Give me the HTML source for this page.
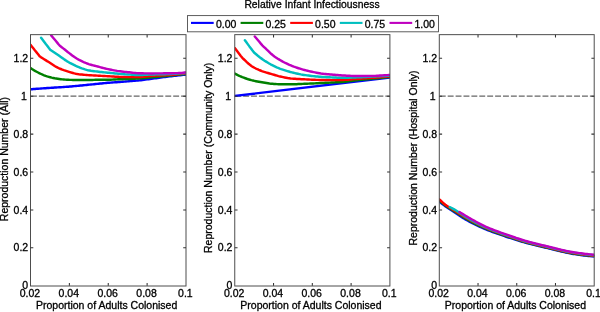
<!DOCTYPE html>
<html><head><meta charset="utf-8"><title>Reproduction number figure</title>
<style>html,body{margin:0;padding:0;background:#fff}svg{display:block;will-change:transform}text{font-family:"Liberation Sans",sans-serif;font-size:10.5px;fill:#000;stroke:#000;stroke-width:0.3px}</style></head><body>
<svg width="600" height="312" viewBox="0 0 600 312">
<rect width="600" height="312" fill="#fff"/>
<defs>
<clipPath id="cp0"><rect x="30.50" y="34.65" width="155.50" height="251.05"/></clipPath>
<clipPath id="cp1"><rect x="234.75" y="34.65" width="155.15" height="251.05"/></clipPath>
<clipPath id="cp2"><rect x="439.30" y="34.65" width="154.90" height="251.05"/></clipPath>
</defs>
<text x="244.4" y="8.3" textLength="135.2" lengthAdjust="spacingAndGlyphs">Relative Infant Infectiousness</text>
<rect x="187.5" y="15.6" width="251" height="16.2" fill="#fff" stroke="#4d4d4d" stroke-width="0.9"/>
<line x1="191.0" y1="22.9" x2="213.7" y2="22.9" stroke="#0000ff" stroke-width="2.1"/>
<text x="215.9" y="27.5">0.00</text>
<line x1="240.6" y1="22.9" x2="263.3" y2="22.9" stroke="#008000" stroke-width="2.1"/>
<text x="265.5" y="27.5">0.25</text>
<line x1="290.2" y1="22.9" x2="312.9" y2="22.9" stroke="#ff0000" stroke-width="2.1"/>
<text x="315.1" y="27.5">0.50</text>
<line x1="339.8" y1="22.9" x2="362.5" y2="22.9" stroke="#00bfbf" stroke-width="2.1"/>
<text x="364.7" y="27.5">0.75</text>
<line x1="389.5" y1="22.9" x2="412.2" y2="22.9" stroke="#bf00bf" stroke-width="2.1"/>
<text x="414.4" y="27.5">1.00</text>
<line x1="31.00" y1="96.20" x2="186.00" y2="96.20" stroke="#666" stroke-width="1.3" stroke-dasharray="5.9 2"/>
<g clip-path="url(#cp0)" fill="none" stroke-width="2.45" stroke-linejoin="round" stroke-linecap="round">
<polyline points="30.5,89.30 32.0,89.18 33.5,89.06 35.0,88.95 36.6,88.83 38.1,88.72 39.6,88.61 41.1,88.49 42.6,88.38 44.1,88.27 45.6,88.17 47.1,88.06 48.7,87.96 50.2,87.85 51.7,87.76 53.2,87.66 54.7,87.57 56.2,87.48 57.7,87.39 59.2,87.29 60.8,87.20 62.3,87.10 63.8,87.00 65.3,86.90 66.8,86.79 68.3,86.68 69.8,86.55 71.3,86.43 72.9,86.29 74.4,86.15 75.9,86.01 77.4,85.86 78.9,85.71 80.4,85.56 81.9,85.41 83.4,85.25 85.0,85.10 86.5,84.95 88.0,84.80 89.5,84.65 91.0,84.50 92.5,84.35 94.0,84.20 95.5,84.05 97.1,83.89 98.6,83.74 100.1,83.59 101.6,83.43 103.1,83.27 104.6,83.11 106.1,82.97 107.6,82.83 109.2,82.71 110.7,82.60 112.2,82.49 113.7,82.39 115.2,82.30 116.7,82.19 118.2,82.08 119.7,81.97 121.3,81.85 122.8,81.73 124.3,81.60 125.8,81.48 127.3,81.36 128.8,81.24 130.3,81.12 131.8,81.01 133.4,80.89 134.9,80.78 136.4,80.65 137.9,80.51 139.4,80.35 140.9,80.18 142.4,80.00 143.9,79.80 145.5,79.59 147.0,79.39 148.5,79.18 150.0,78.97 151.5,78.76 153.0,78.57 154.5,78.37 156.0,78.17 157.6,77.96 159.1,77.76 160.6,77.56 162.1,77.36 163.6,77.16 165.1,76.96 166.6,76.77 168.1,76.58 169.7,76.40 171.2,76.21 172.7,76.03 174.2,75.86 175.7,75.68 177.2,75.50 178.7,75.33 180.2,75.16 181.8,74.99 183.3,74.83 184.8,74.66 186.3,74.50" stroke="#0000ff"/>
<polyline points="30.5,68.00 32.0,69.01 33.5,69.97 35.0,70.89 36.6,71.74 38.1,72.53 39.6,73.28 41.1,74.00 42.6,74.70 44.1,75.34 45.6,75.93 47.1,76.44 48.7,76.88 50.2,77.27 51.7,77.64 53.2,77.97 54.7,78.27 56.2,78.53 57.7,78.76 59.2,78.97 60.8,79.16 62.3,79.35 63.8,79.51 65.3,79.64 66.8,79.75 68.3,79.81 69.8,79.86 71.3,79.90 72.9,79.94 74.4,79.97 75.9,79.99 77.4,80.00 78.9,80.00 80.4,80.00 81.9,80.00 83.4,80.00 85.0,80.00 86.5,80.00 88.0,80.00 89.5,79.99 91.0,79.96 92.5,79.91 94.0,79.87 95.5,79.83 97.1,79.81 98.6,79.80 100.1,79.80 101.6,79.80 103.1,79.80 104.6,79.80 106.1,79.80 107.6,79.80 109.2,79.79 110.7,79.73 112.2,79.65 113.7,79.55 115.2,79.45 116.7,79.36 118.2,79.29 119.7,79.24 121.3,79.20 122.8,79.16 124.3,79.12 125.8,79.07 127.3,79.02 128.8,78.97 130.3,78.91 131.8,78.84 133.4,78.76 134.9,78.68 136.4,78.60 137.9,78.51 139.4,78.41 140.9,78.29 142.4,78.17 143.9,78.04 145.5,77.91 147.0,77.77 148.5,77.62 150.0,77.48 151.5,77.34 153.0,77.21 154.5,77.07 156.0,76.93 157.6,76.79 159.1,76.65 160.6,76.51 162.1,76.37 163.6,76.23 165.1,76.08 166.6,75.93 168.1,75.79 169.7,75.64 171.2,75.48 172.7,75.33 174.2,75.18 175.7,75.02 177.2,74.87 178.7,74.71 180.2,74.55 181.8,74.39 183.3,74.23 184.8,74.06 186.3,73.90" stroke="#008000"/>
<polyline points="30.5,44.80 32.0,46.70 33.5,48.61 35.0,50.51 36.6,52.41 38.1,54.36 39.6,56.30 41.1,57.36 42.6,58.25 44.1,59.20 45.6,60.15 47.1,61.10 48.7,62.05 50.2,63.01 51.7,64.01 53.2,65.01 54.7,65.98 56.2,66.88 57.7,67.67 59.2,68.36 60.8,68.99 62.3,69.58 63.8,70.13 65.3,70.64 66.8,71.13 68.3,71.60 69.8,72.06 71.3,72.52 72.9,72.96 74.4,73.36 75.9,73.72 77.4,74.01 78.9,74.23 80.4,74.41 81.9,74.58 83.4,74.73 85.0,74.86 86.5,74.98 88.0,75.10 89.5,75.21 91.0,75.31 92.5,75.40 94.0,75.48 95.5,75.57 97.1,75.65 98.6,75.73 100.1,75.81 101.6,75.88 103.1,75.96 104.6,76.03 106.1,76.10 107.6,76.18 109.2,76.27 110.7,76.36 112.2,76.46 113.7,76.56 115.2,76.66 116.7,76.74 118.2,76.81 119.7,76.87 121.3,76.93 122.8,76.99 124.3,77.04 125.8,77.08 127.3,77.10 128.8,77.10 130.3,77.10 131.8,77.10 133.4,77.10 134.9,77.10 136.4,77.10 137.9,77.10 139.4,77.07 140.9,77.00 142.4,76.88 143.9,76.73 145.5,76.57 147.0,76.39 148.5,76.22 150.0,76.07 151.5,75.94 153.0,75.83 154.5,75.74 156.0,75.65 157.6,75.57 159.1,75.50 160.6,75.42 162.1,75.34 163.6,75.26 165.1,75.18 166.6,75.09 168.1,74.99 169.7,74.88 171.2,74.77 172.7,74.66 174.2,74.53 175.7,74.41 177.2,74.28 178.7,74.14 180.2,74.00 181.8,73.86 183.3,73.71 184.8,73.56 186.3,73.40" stroke="#ff0000"/>
<polyline points="41.1,37.70 42.6,39.69 44.1,41.69 45.6,43.68 47.2,45.68 48.7,47.74 50.2,49.68 51.7,50.71 53.2,51.73 54.7,52.75 56.2,53.78 57.7,54.81 59.2,55.87 60.8,56.95 62.3,58.03 63.8,59.10 65.3,60.12 66.8,61.09 68.3,61.99 69.8,62.84 71.4,63.66 72.9,64.44 74.4,65.19 75.9,65.90 77.4,66.55 78.9,67.17 80.4,67.77 81.9,68.36 83.5,68.90 85.0,69.40 86.5,69.84 88.0,70.20 89.5,70.49 91.0,70.76 92.5,70.99 94.0,71.20 95.6,71.40 97.1,71.59 98.6,71.77 100.1,71.93 101.6,72.09 103.1,72.24 104.6,72.38 106.1,72.52 107.7,72.67 109.2,72.82 110.7,72.97 112.2,73.13 113.7,73.29 115.2,73.44 116.7,73.58 118.2,73.72 119.8,73.86 121.3,73.99 122.8,74.12 124.3,74.24 125.8,74.35 127.3,74.46 128.8,74.55 130.3,74.65 131.9,74.75 133.4,74.85 134.9,74.93 136.4,74.98 137.9,75.00 139.4,74.99 140.9,74.96 142.4,74.91 144.0,74.85 145.5,74.78 147.0,74.71 148.5,74.64 150.0,74.57 151.5,74.52 153.0,74.47 154.5,74.43 156.1,74.40 157.6,74.36 159.1,74.33 160.6,74.30 162.1,74.27 163.6,74.23 165.1,74.19 166.6,74.15 168.2,74.09 169.7,74.03 171.2,73.97 172.7,73.89 174.2,73.80 175.7,73.71 177.2,73.61 178.7,73.51 180.2,73.40 181.8,73.28 183.3,73.16 184.8,73.03 186.3,72.90" stroke="#00bfbf"/>
<polyline points="51.2,35.40 52.7,37.20 54.2,39.01 55.7,40.81 57.2,42.62 58.7,44.50 60.2,46.03 61.7,47.18 63.2,48.38 64.7,49.58 66.2,50.77 67.7,51.98 69.2,53.13 70.7,54.29 72.2,55.43 73.7,56.53 75.2,57.58 76.7,58.55 78.2,59.42 79.7,60.22 81.2,60.97 82.7,61.68 84.2,62.34 85.7,62.96 87.2,63.53 88.7,64.05 90.2,64.52 91.7,64.95 93.2,65.36 94.7,65.76 96.2,66.14 97.7,66.53 99.2,66.93 100.7,67.32 102.2,67.71 103.7,68.10 105.2,68.47 106.7,68.82 108.2,69.15 109.7,69.47 111.2,69.79 112.7,70.09 114.2,70.37 115.7,70.64 117.2,70.89 118.8,71.11 120.3,71.31 121.8,71.50 123.3,71.68 124.8,71.85 126.3,72.01 127.8,72.17 129.3,72.34 130.8,72.53 132.3,72.71 133.8,72.89 135.3,73.03 136.8,73.14 138.3,73.21 139.8,73.25 141.3,73.29 142.8,73.32 144.3,73.35 145.8,73.37 147.3,73.39 148.8,73.40 150.3,73.40 151.8,73.40 153.3,73.40 154.8,73.39 156.3,73.39 157.8,73.38 159.3,73.37 160.8,73.36 162.3,73.35 163.8,73.34 165.3,73.32 166.8,73.31 168.3,73.30 169.8,73.28 171.3,73.26 172.8,73.23 174.3,73.19 175.8,73.15 177.3,73.10 178.8,73.05 180.3,72.99 181.8,72.89 183.3,72.75 184.8,72.58 186.3,72.40" stroke="#bf00bf"/>
</g>
<rect x="30.50" y="34.65" width="155.50" height="251.35" fill="none" stroke="#4d4d4d" stroke-width="1"/>
<path d="M69.38 285.70v-2.80M69.38 34.65v2.80M108.25 285.70v-2.80M108.25 34.65v2.80M147.12 285.70v-2.80M147.12 34.65v2.80M30.50 247.80h2.80M186.00 247.80h-2.80M30.50 209.90h2.80M186.00 209.90h-2.80M30.50 172.00h2.80M186.00 172.00h-2.80M30.50 134.10h2.80M186.00 134.10h-2.80M30.50 96.20h2.80M186.00 96.20h-2.80M30.50 58.30h2.80M186.00 58.30h-2.80" stroke="#333" stroke-width="1.05" fill="none"/>
<text x="29.90" y="297.2" text-anchor="middle">0.02</text>
<text x="68.78" y="297.2" text-anchor="middle">0.04</text>
<text x="107.65" y="297.2" text-anchor="middle">0.06</text>
<text x="146.53" y="297.2" text-anchor="middle">0.08</text>
<text x="185.40" y="297.2" text-anchor="middle">0.1</text>
<text x="28.20" y="289.30" text-anchor="end">0</text>
<text x="28.20" y="251.40" text-anchor="end">0.2</text>
<text x="28.20" y="213.50" text-anchor="end">0.4</text>
<text x="28.20" y="175.60" text-anchor="end">0.6</text>
<text x="28.20" y="137.70" text-anchor="end">0.8</text>
<text x="26.90" y="99.80" text-anchor="end">1</text>
<text x="28.20" y="61.90" text-anchor="end">1.2</text>
<text x="36.00" y="308.9">Proportion of Adults Colonised</text>
<text transform="translate(8.40 221.20) rotate(-90)">Reproduction Number (All)</text>
<line x1="235.25" y1="96.20" x2="389.90" y2="96.20" stroke="#666" stroke-width="1.3" stroke-dasharray="5.9 2"/>
<g clip-path="url(#cp1)" fill="none" stroke-width="2.45" stroke-linejoin="round" stroke-linecap="round">
<polyline points="234.8,95.90 390.3,77.50" stroke="#0000ff"/>
<polyline points="234.8,73.50 236.3,74.31 237.8,75.09 239.3,75.82 240.8,76.50 242.3,77.12 243.8,77.70 245.3,78.25 246.8,78.78 248.3,79.27 249.9,79.72 251.4,80.14 252.9,80.51 254.4,80.86 255.9,81.18 257.4,81.47 258.9,81.76 260.4,82.03 261.9,82.29 263.4,82.55 265.0,82.82 266.5,83.08 268.0,83.32 269.5,83.54 271.0,83.71 272.5,83.84 274.0,83.95 275.5,84.05 277.0,84.15 278.5,84.22 280.1,84.27 281.6,84.30 283.1,84.30 284.6,84.30 286.1,84.30 287.6,84.30 289.1,84.30 290.6,84.30 292.1,84.30 293.6,84.28 295.2,84.23 296.7,84.17 298.2,84.09 299.7,84.01 301.2,83.93 302.7,83.87 304.2,83.81 305.7,83.75 307.2,83.70 308.7,83.64 310.3,83.57 311.8,83.51 313.3,83.44 314.8,83.37 316.3,83.29 317.8,83.22 319.3,83.14 320.8,83.06 322.3,82.98 323.9,82.91 325.4,82.83 326.9,82.76 328.4,82.68 329.9,82.61 331.4,82.53 332.9,82.46 334.4,82.39 335.9,82.32 337.4,82.25 339.0,82.18 340.5,82.10 342.0,82.00 343.5,81.88 345.0,81.73 346.5,81.55 348.0,81.35 349.5,81.14 351.0,80.93 352.5,80.72 354.1,80.53 355.6,80.35 357.1,80.19 358.6,80.04 360.1,79.89 361.6,79.75 363.1,79.61 364.6,79.48 366.1,79.34 367.6,79.21 369.2,79.07 370.7,78.93 372.2,78.78 373.7,78.63 375.2,78.48 376.7,78.33 378.2,78.18 379.7,78.02 381.2,77.87 382.7,77.71 384.3,77.55 385.8,77.39 387.3,77.23 388.8,77.06 390.3,76.90" stroke="#008000"/>
<polyline points="234.8,48.00 236.3,49.98 237.8,51.96 239.3,53.94 240.8,55.94 242.3,57.81 243.8,59.24 245.3,60.69 246.8,62.15 248.3,63.51 249.9,64.82 251.4,65.98 252.9,66.92 254.4,67.76 255.9,68.53 257.4,69.24 258.9,69.89 260.4,70.50 261.9,71.08 263.4,71.62 265.0,72.12 266.5,72.59 268.0,73.04 269.5,73.48 271.0,73.91 272.5,74.35 274.0,74.79 275.5,75.23 277.0,75.66 278.5,76.07 280.1,76.46 281.6,76.81 283.1,77.12 284.6,77.43 286.1,77.73 287.6,78.01 289.1,78.25 290.6,78.46 292.1,78.61 293.6,78.73 295.2,78.84 296.7,78.92 298.2,79.00 299.7,79.08 301.2,79.16 302.7,79.24 304.2,79.32 305.7,79.40 307.2,79.48 308.7,79.56 310.3,79.63 311.8,79.69 313.3,79.75 314.8,79.80 316.3,79.86 317.8,79.90 319.3,79.95 320.8,79.98 322.3,80.01 323.9,80.03 325.4,80.05 326.9,80.07 328.4,80.08 329.9,80.09 331.4,80.10 332.9,80.10 334.4,80.09 335.9,80.08 337.4,80.07 339.0,80.05 340.5,80.02 342.0,80.00 343.5,79.96 345.0,79.89 346.5,79.79 348.0,79.68 349.5,79.55 351.0,79.42 352.5,79.29 354.1,79.15 355.6,79.03 357.1,78.92 358.6,78.81 360.1,78.70 361.6,78.59 363.1,78.48 364.6,78.36 366.1,78.25 367.6,78.14 369.2,78.02 370.7,77.90 372.2,77.79 373.7,77.67 375.2,77.55 376.7,77.43 378.2,77.31 379.7,77.18 381.2,77.06 382.7,76.94 384.3,76.81 385.8,76.68 387.3,76.56 388.8,76.43 390.3,76.30" stroke="#ff0000"/>
<polyline points="244.9,40.30 246.4,42.33 247.9,44.36 249.4,46.39 251.0,48.42 252.5,50.51 254.0,52.49 255.5,53.76 257.0,55.03 258.5,56.31 260.0,57.53 261.6,58.63 263.1,59.68 264.6,60.69 266.1,61.65 267.6,62.57 269.1,63.45 270.6,64.29 272.2,65.08 273.7,65.84 275.2,66.57 276.7,67.27 278.2,67.93 279.7,68.55 281.2,69.13 282.8,69.67 284.3,70.18 285.8,70.66 287.3,71.12 288.8,71.55 290.3,71.97 291.9,72.36 293.4,72.74 294.9,73.11 296.4,73.47 297.9,73.80 299.4,74.12 300.9,74.41 302.5,74.68 304.0,74.92 305.5,75.16 307.0,75.38 308.5,75.58 310.0,75.77 311.5,75.95 313.1,76.11 314.6,76.27 316.1,76.42 317.6,76.56 319.1,76.69 320.6,76.81 322.1,76.91 323.7,77.00 325.2,77.08 326.7,77.16 328.2,77.23 329.7,77.30 331.2,77.37 332.7,77.43 334.3,77.51 335.8,77.59 337.3,77.67 338.8,77.73 340.3,77.78 341.8,77.80 343.3,77.79 344.9,77.77 346.4,77.74 347.9,77.70 349.4,77.65 350.9,77.59 352.4,77.54 354.0,77.48 355.5,77.42 357.0,77.36 358.5,77.30 360.0,77.23 361.5,77.16 363.0,77.08 364.6,77.00 366.1,76.91 367.6,76.83 369.1,76.75 370.6,76.67 372.1,76.59 373.6,76.52 375.2,76.44 376.7,76.37 378.2,76.29 379.7,76.22 381.2,76.14 382.7,76.07 384.2,76.00 385.8,75.92 387.3,75.85 388.8,75.77 390.3,75.70" stroke="#00bfbf"/>
<polyline points="254.8,36.50 256.3,38.28 257.8,40.05 259.3,41.83 260.8,43.63 262.3,45.34 263.8,46.77 265.3,48.21 266.8,49.65 268.4,51.10 269.9,52.55 271.4,54.04 272.9,55.29 274.4,56.42 275.9,57.48 277.4,58.48 278.9,59.41 280.4,60.30 281.9,61.15 283.4,61.96 284.9,62.73 286.4,63.47 287.9,64.17 289.4,64.84 290.9,65.47 292.4,66.07 293.9,66.65 295.4,67.19 297.0,67.72 298.5,68.22 300.0,68.69 301.5,69.15 303.0,69.58 304.5,69.99 306.0,70.39 307.5,70.77 309.0,71.13 310.5,71.48 312.0,71.80 313.5,72.12 315.0,72.42 316.5,72.71 318.0,72.99 319.5,73.24 321.0,73.47 322.6,73.67 324.1,73.85 325.6,74.01 327.1,74.16 328.6,74.30 330.1,74.43 331.6,74.56 333.1,74.70 334.6,74.83 336.1,74.96 337.6,75.09 339.1,75.21 340.6,75.31 342.1,75.41 343.6,75.49 345.1,75.58 346.6,75.67 348.1,75.76 349.6,75.83 351.2,75.90 352.7,75.95 354.2,75.98 355.7,76.00 357.2,76.00 358.7,76.00 360.2,76.00 361.7,76.00 363.2,76.00 364.7,76.00 366.2,76.00 367.7,76.00 369.2,76.00 370.7,76.00 372.2,76.00 373.7,75.97 375.2,75.89 376.8,75.79 378.3,75.67 379.8,75.55 381.3,75.44 382.8,75.36 384.3,75.28 385.8,75.21 387.3,75.14 388.8,75.07 390.3,75.00" stroke="#bf00bf"/>
</g>
<rect x="234.75" y="34.65" width="155.15" height="251.35" fill="none" stroke="#4d4d4d" stroke-width="1"/>
<path d="M273.54 285.70v-2.80M273.54 34.65v2.80M312.32 285.70v-2.80M312.32 34.65v2.80M351.11 285.70v-2.80M351.11 34.65v2.80M234.75 247.80h2.80M389.90 247.80h-2.80M234.75 209.90h2.80M389.90 209.90h-2.80M234.75 172.00h2.80M389.90 172.00h-2.80M234.75 134.10h2.80M389.90 134.10h-2.80M234.75 96.20h2.80M389.90 96.20h-2.80M234.75 58.30h2.80M389.90 58.30h-2.80" stroke="#333" stroke-width="1.05" fill="none"/>
<text x="234.15" y="297.2" text-anchor="middle">0.02</text>
<text x="272.94" y="297.2" text-anchor="middle">0.04</text>
<text x="311.72" y="297.2" text-anchor="middle">0.06</text>
<text x="350.51" y="297.2" text-anchor="middle">0.08</text>
<text x="389.30" y="297.2" text-anchor="middle">0.1</text>
<text x="232.45" y="289.30" text-anchor="end">0</text>
<text x="232.45" y="251.40" text-anchor="end">0.2</text>
<text x="232.45" y="213.50" text-anchor="end">0.4</text>
<text x="232.45" y="175.60" text-anchor="end">0.6</text>
<text x="232.45" y="137.70" text-anchor="end">0.8</text>
<text x="231.15" y="99.80" text-anchor="end">1</text>
<text x="232.45" y="61.90" text-anchor="end">1.2</text>
<text x="240.30" y="308.9">Proportion of Adults Colonised</text>
<text transform="translate(212.30 253.00) rotate(-90)">Reproduction Number (Community Only)</text>
<line x1="439.80" y1="96.20" x2="594.20" y2="96.20" stroke="#666" stroke-width="1.3" stroke-dasharray="5.9 2"/>
<g clip-path="url(#cp2)" fill="none" stroke-width="2.45" stroke-linejoin="round" stroke-linecap="round">
<polyline points="439.3,201.70 440.8,202.87 442.3,204.02 443.8,205.14 445.3,206.23 446.8,207.28 448.3,208.29 449.8,209.27 451.4,210.24 452.9,211.19 454.4,212.15 455.9,213.12 457.4,214.11 458.9,215.13 460.4,216.15 461.9,217.16 463.4,218.14 464.9,219.07 466.4,219.94 467.9,220.77 469.4,221.59 470.9,222.39 472.4,223.16 474.0,223.93 475.5,224.67 477.0,225.39 478.5,226.10 480.0,226.79 481.5,227.47 483.0,228.13 484.5,228.77 486.0,229.40 487.5,230.02 489.0,230.62 490.5,231.20 492.0,231.76 493.5,232.32 495.1,232.86 496.6,233.40 498.1,233.92 499.6,234.44 501.1,234.95 502.6,235.46 504.1,235.96 505.6,236.47 507.1,236.97 508.6,237.47 510.1,237.96 511.6,238.45 513.1,238.94 514.6,239.42 516.1,239.89 517.7,240.36 519.2,240.82 520.7,241.27 522.2,241.72 523.7,242.15 525.2,242.58 526.7,242.99 528.2,243.39 529.7,243.79 531.2,244.18 532.7,244.56 534.2,244.93 535.7,245.30 537.2,245.67 538.7,246.03 540.3,246.38 541.8,246.74 543.3,247.09 544.8,247.45 546.3,247.80 547.8,248.16 549.3,248.52 550.8,248.89 552.3,249.27 553.8,249.64 555.3,250.02 556.8,250.39 558.3,250.76 559.8,251.12 561.4,251.48 562.9,251.83 564.4,252.17 565.9,252.50 567.4,252.82 568.9,253.12 570.4,253.40 571.9,253.67 573.4,253.92 574.9,254.15 576.4,254.38 577.9,254.60 579.4,254.82 580.9,255.03 582.4,255.23 584.0,255.42 585.5,255.60 587.0,255.78 588.5,255.94 590.0,256.10 591.5,256.24 593.0,256.38 594.5,256.50" stroke="#0000ff"/>
<polyline points="439.3,200.60 440.8,201.90 442.3,203.15 443.8,204.36 445.3,205.51 446.8,206.59 448.3,207.61 449.8,208.58 451.4,209.52 452.9,210.44 454.4,211.37 455.9,212.32 457.4,213.30 458.9,214.29 460.4,215.29 461.9,216.28 463.4,217.25 464.9,218.17 466.4,219.04 467.9,219.88 469.4,220.71 470.9,221.52 472.4,222.31 474.0,223.09 475.5,223.85 477.0,224.59 478.5,225.32 480.0,226.03 481.5,226.73 483.0,227.40 484.5,228.06 486.0,228.70 487.5,229.33 489.0,229.93 490.5,230.52 492.0,231.10 493.5,231.66 495.1,232.21 496.6,232.75 498.1,233.28 499.6,233.80 501.1,234.32 502.6,234.84 504.1,235.35 505.6,235.86 507.1,236.38 508.6,236.89 510.1,237.40 511.6,237.91 513.1,238.41 514.6,238.91 516.1,239.40 517.7,239.89 519.2,240.37 520.7,240.83 522.2,241.29 523.7,241.74 525.2,242.17 526.7,242.59 528.2,243.00 529.7,243.40 531.2,243.79 532.7,244.17 534.2,244.54 535.7,244.91 537.2,245.27 538.7,245.63 540.3,245.99 541.8,246.34 543.3,246.69 544.8,247.05 546.3,247.40 547.8,247.76 549.3,248.12 550.8,248.49 552.3,248.87 553.8,249.24 555.3,249.62 556.8,249.99 558.3,250.36 559.8,250.72 561.4,251.08 562.9,251.43 564.4,251.77 565.9,252.10 567.4,252.42 568.9,252.72 570.4,253.00 571.9,253.27 573.4,253.52 574.9,253.75 576.4,253.98 577.9,254.20 579.4,254.42 580.9,254.63 582.4,254.83 584.0,255.02 585.5,255.20 587.0,255.38 588.5,255.54 590.0,255.70 591.5,255.84 593.0,255.98 594.5,256.10" stroke="#008000"/>
<polyline points="439.3,199.30 440.8,200.75 442.3,202.15 443.8,203.47 445.3,204.69 446.8,205.80 448.3,206.83 449.8,207.79 451.4,208.70 452.9,209.60 454.4,210.50 455.9,211.42 457.4,212.38 458.9,213.36 460.4,214.33 461.9,215.30 463.4,216.25 464.9,217.17 466.4,218.04 467.9,218.89 469.4,219.73 470.9,220.56 472.4,221.38 474.0,222.19 475.5,222.98 477.0,223.75 478.5,224.51 480.0,225.25 481.5,225.97 483.0,226.67 484.5,227.35 486.0,228.00 487.5,228.64 489.0,229.26 490.5,229.86 492.0,230.44 493.5,231.01 495.1,231.56 496.6,232.11 498.1,232.65 499.6,233.18 501.1,233.70 502.6,234.22 504.1,234.74 505.6,235.26 507.1,235.78 508.6,236.30 510.1,236.82 511.6,237.34 513.1,237.85 514.6,238.35 516.1,238.85 517.7,239.35 519.2,239.83 520.7,240.31 522.2,240.77 523.7,241.23 525.2,241.67 526.7,242.10 528.2,242.51 529.7,242.92 531.2,243.32 532.7,243.71 534.2,244.09 535.7,244.47 537.2,244.84 538.7,245.20 540.3,245.57 541.8,245.93 543.3,246.28 544.8,246.64 546.3,247.00 547.8,247.36 549.3,247.73 550.8,248.10 552.3,248.47 553.8,248.85 555.3,249.22 556.8,249.60 558.3,249.97 559.8,250.33 561.4,250.69 562.9,251.04 564.4,251.38 565.9,251.71 567.4,252.02 568.9,252.32 570.4,252.61 571.9,252.87 573.4,253.12 574.9,253.35 576.4,253.58 577.9,253.80 579.4,254.02 580.9,254.23 582.4,254.43 584.0,254.62 585.5,254.80 587.0,254.98 588.5,255.14 590.0,255.30 591.5,255.44 593.0,255.58 594.5,255.70" stroke="#ff0000"/>
<polyline points="449.7,207.00 451.2,207.76 452.7,208.55 454.2,209.38 455.7,210.24 457.2,211.17 458.8,212.17 460.3,213.22 461.8,214.29 463.3,215.34 464.8,216.35 466.3,217.27 467.8,218.16 469.3,219.03 470.8,219.88 472.3,220.72 473.8,221.54 475.3,222.35 476.8,223.14 478.4,223.91 479.9,224.66 481.4,225.39 482.9,226.10 484.4,226.79 485.9,227.46 487.4,228.10 488.9,228.73 490.4,229.34 491.9,229.94 493.4,230.52 494.9,231.08 496.5,231.64 498.0,232.18 499.5,232.72 501.0,233.25 502.5,233.78 504.0,234.30 505.5,234.83 507.0,235.35 508.5,235.88 510.0,236.40 511.5,236.92 513.0,237.43 514.6,237.94 516.1,238.44 517.6,238.94 519.1,239.42 520.6,239.90 522.1,240.36 523.6,240.81 525.1,241.25 526.6,241.67 528.1,242.09 529.6,242.49 531.1,242.88 532.7,243.26 534.2,243.63 535.7,244.00 537.2,244.36 538.7,244.72 540.2,245.08 541.7,245.43 543.2,245.78 544.7,246.14 546.2,246.49 547.7,246.85 549.2,247.21 550.8,247.58 552.3,247.95 553.8,248.33 555.3,248.71 556.8,249.08 558.3,249.45 559.8,249.82 561.3,250.18 562.8,250.53 564.3,250.87 565.8,251.20 567.4,251.51 568.9,251.82 570.4,252.10 571.9,252.37 573.4,252.61 574.9,252.85 576.4,253.08 577.9,253.30 579.4,253.51 580.9,253.72 582.4,253.92 583.9,254.12 585.5,254.30 587.0,254.48 588.5,254.64 590.0,254.80 591.5,254.94 593.0,255.08 594.5,255.20" stroke="#00bfbf"/>
<polyline points="459.5,212.00 461.0,212.95 462.5,213.89 464.0,214.81 465.5,215.71 467.0,216.58 468.5,217.46 470.0,218.33 471.5,219.19 473.0,220.05 474.5,220.90 476.0,221.74 477.5,222.56 479.0,223.36 480.5,224.15 482.0,224.91 483.5,225.64 485.0,226.35 486.5,227.02 488.0,227.67 489.5,228.30 491.0,228.91 492.5,229.50 494.0,230.08 495.5,230.65 497.0,231.20 498.5,231.74 500.0,232.28 501.5,232.81 503.0,233.34 504.5,233.87 506.0,234.40 507.5,234.93 509.0,235.46 510.5,235.98 512.0,236.50 513.5,237.02 515.0,237.53 516.5,238.04 518.0,238.53 519.5,239.02 521.0,239.50 522.5,239.96 524.0,240.42 525.5,240.86 527.0,241.28 528.5,241.70 530.0,242.10 531.5,242.50 533.0,242.88 534.5,243.26 536.0,243.64 537.5,244.00 539.0,244.37 540.5,244.73 542.0,245.08 543.5,245.44 545.0,245.80 546.5,246.15 548.0,246.51 549.5,246.88 551.0,247.25 552.5,247.62 554.0,247.99 555.5,248.37 557.0,248.74 558.5,249.11 560.0,249.47 561.5,249.83 563.0,250.17 564.5,250.51 566.0,250.83 567.5,251.15 569.0,251.44 570.5,251.73 572.0,251.99 573.5,252.23 575.0,252.46 576.5,252.69 578.0,252.91 579.5,253.13 581.0,253.33 582.5,253.53 584.0,253.72 585.5,253.91 587.0,254.08 588.5,254.25 590.0,254.40 591.5,254.55 593.0,254.68 594.5,254.80" stroke="#bf00bf"/>
</g>
<rect x="439.30" y="34.65" width="154.90" height="251.35" fill="none" stroke="#4d4d4d" stroke-width="1"/>
<path d="M478.03 285.70v-2.80M478.03 34.65v2.80M516.75 285.70v-2.80M516.75 34.65v2.80M555.48 285.70v-2.80M555.48 34.65v2.80M439.30 247.80h2.80M594.20 247.80h-2.80M439.30 209.90h2.80M594.20 209.90h-2.80M439.30 172.00h2.80M594.20 172.00h-2.80M439.30 134.10h2.80M594.20 134.10h-2.80M439.30 96.20h2.80M594.20 96.20h-2.80M439.30 58.30h2.80M594.20 58.30h-2.80" stroke="#333" stroke-width="1.05" fill="none"/>
<text x="438.70" y="297.2" text-anchor="middle">0.02</text>
<text x="477.43" y="297.2" text-anchor="middle">0.04</text>
<text x="516.15" y="297.2" text-anchor="middle">0.06</text>
<text x="554.88" y="297.2" text-anchor="middle">0.08</text>
<text x="593.60" y="297.2" text-anchor="middle">0.1</text>
<text x="437.00" y="289.30" text-anchor="end">0</text>
<text x="437.00" y="251.40" text-anchor="end">0.2</text>
<text x="437.00" y="213.50" text-anchor="end">0.4</text>
<text x="437.00" y="175.60" text-anchor="end">0.6</text>
<text x="437.00" y="137.70" text-anchor="end">0.8</text>
<text x="435.70" y="99.80" text-anchor="end">1</text>
<text x="437.00" y="61.90" text-anchor="end">1.2</text>
<text x="444.80" y="308.9">Proportion of Adults Colonised</text>
<text transform="translate(416.80 245.50) rotate(-90)">Reproduction Number (Hospital Only)</text>
</svg></body></html>
